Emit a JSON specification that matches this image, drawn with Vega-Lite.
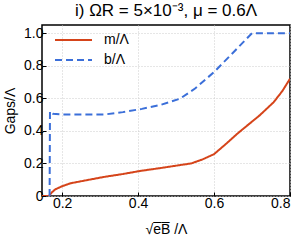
{
  "$schema": "https://vega.github.io/schema/vega-lite/v6.json",
  "autosize": "none",
  "width": 248,
  "height": 171,
  "padding": {"left": 42, "top": 25, "right": 10, "bottom": 49},
  "config": {
    "font": "Liberation Sans",
    "view": {"stroke": "black", "strokeWidth": 1.5},
    "axis": {
      "domain": false,
      "grid": true,
      "gridColor": "#cccccc",
      "gridDash": [1, 2],
      "gridWidth": 1,
      "tickColor": "black",
      "tickSize": -4,
      "labelFont": "Liberation Sans",
      "labelFontSize": 14,
      "labelColor": "black",
      "titleFont": "Liberation Sans",
      "titleFontSize": 14,
      "titleFontWeight": "normal",
      "titleColor": "black"
    },
    "legend": {
      "title": null,
      "symbolType": "stroke",
      "symbolSize": 1369,
      "symbolStrokeWidth": 2,
      "labelFontSize": 14,
      "labelFont": "Liberation Sans",
      "labelColor": "black",
      "labelOffset": 11,
      "clipHeight": 20,
      "rowPadding": 0
    }
  },
  "title": {
    "text": "i) ΩR = 5×10⁻³, μ = 0.6Λ",
    "font": "Liberation Sans",
    "fontSize": 17,
    "fontWeight": "normal",
    "color": "black",
    "anchor": "middle",
    "offset": 5
  },
  "data": {
    "values": [
      {"s": "m/Λ", "x": 0.147, "y": 0},
      {"s": "m/Λ", "x": 0.165, "y": 0},
      {"s": "m/Λ", "x": 0.172, "y": 0.02},
      {"s": "m/Λ", "x": 0.182, "y": 0.041},
      {"s": "m/Λ", "x": 0.2, "y": 0.06},
      {"s": "m/Λ", "x": 0.222, "y": 0.078},
      {"s": "m/Λ", "x": 0.26, "y": 0.095},
      {"s": "m/Λ", "x": 0.31, "y": 0.117},
      {"s": "m/Λ", "x": 0.36, "y": 0.135},
      {"s": "m/Λ", "x": 0.406, "y": 0.154},
      {"s": "m/Λ", "x": 0.46, "y": 0.172},
      {"s": "m/Λ", "x": 0.511, "y": 0.19},
      {"s": "m/Λ", "x": 0.54, "y": 0.2},
      {"s": "m/Λ", "x": 0.57, "y": 0.225},
      {"s": "m/Λ", "x": 0.6, "y": 0.257},
      {"s": "m/Λ", "x": 0.634, "y": 0.325},
      {"s": "m/Λ", "x": 0.66, "y": 0.38},
      {"s": "m/Λ", "x": 0.687, "y": 0.432},
      {"s": "m/Λ", "x": 0.72, "y": 0.495},
      {"s": "m/Λ", "x": 0.757, "y": 0.576},
      {"s": "m/Λ", "x": 0.78, "y": 0.645},
      {"s": "m/Λ", "x": 0.8, "y": 0.72},
      {"s": "b/Λ", "x": 0.167, "y": 0},
      {"s": "b/Λ", "x": 0.168, "y": 0.52},
      {"s": "b/Λ", "x": 0.176, "y": 0.505},
      {"s": "b/Λ", "x": 0.2, "y": 0.5},
      {"s": "b/Λ", "x": 0.25, "y": 0.5},
      {"s": "b/Λ", "x": 0.31, "y": 0.5},
      {"s": "b/Λ", "x": 0.36, "y": 0.515},
      {"s": "b/Λ", "x": 0.41, "y": 0.535},
      {"s": "b/Λ", "x": 0.46, "y": 0.56},
      {"s": "b/Λ", "x": 0.51, "y": 0.597},
      {"s": "b/Λ", "x": 0.55, "y": 0.66},
      {"s": "b/Λ", "x": 0.6, "y": 0.761},
      {"s": "b/Λ", "x": 0.65, "y": 0.88},
      {"s": "b/Λ", "x": 0.7, "y": 1.0},
      {"s": "b/Λ", "x": 0.8, "y": 1.0}
    ]
  },
  "mark": {"type": "line", "strokeWidth": 2, "clip": true},
  "encoding": {
    "x": {
      "field": "x",
      "type": "quantitative",
      "scale": {"domain": [0.147, 0.8], "nice": false, "zero": false},
      "axis": {"values": [0.2, 0.4, 0.6, 0.8], "format": ".1f", "title": "√e̅B̅ /Λ", "titlePadding": 12, "labelPadding": 4}
    },
    "y": {
      "field": "y",
      "type": "quantitative",
      "scale": {"domain": [0, 1.05], "nice": false},
      "axis": {"values": [0, 0.2, 0.4, 0.6, 0.8, 1.0], "labelExpr": "datum.value == 0 ? '0' : format(datum.value, '.1f')", "title": "Gaps/Λ", "titlePadding": 6, "labelPadding": 3}
    },
    "color": {
      "field": "s",
      "type": "nominal",
      "scale": {"domain": ["m/Λ", "b/Λ"], "range": ["#d5441a", "#3b6fd9"]},
      "legend": {"orient": "none", "legendX": 12, "legendY": 5}
    },
    "strokeDash": {
      "field": "s",
      "type": "nominal",
      "scale": {"domain": ["m/Λ", "b/Λ"], "range": [[1, 0], [7, 4]]},
      "legend": {"orient": "none", "legendX": 12, "legendY": 5}
    }
  }
}
